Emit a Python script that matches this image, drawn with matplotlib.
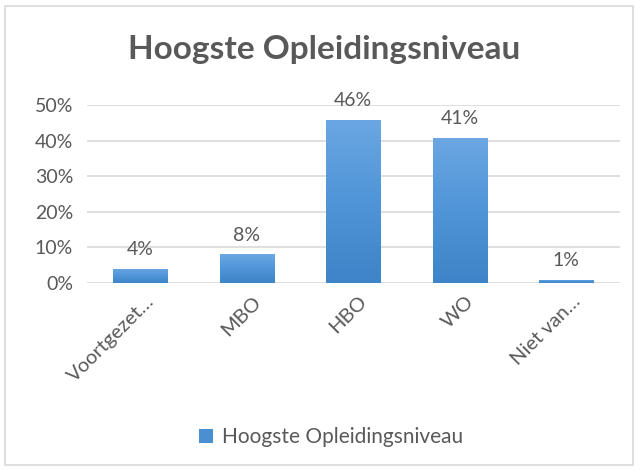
import numpy as np
import matplotlib.pyplot as plt
import matplotlib.transforms as mtransforms
from matplotlib.patches import Rectangle
from matplotlib.colors import LinearSegmentedColormap

categories = ['Voortgezet…', 'MBO', 'HBO', 'WO', 'Niet van…']
values = [0.04, 0.081, 0.458, 0.407, 0.009]
yticks = [0, 0.1, 0.2, 0.3, 0.4, 0.5]
ytick_labels = ['0%', '10%', '20%', '30%', '40%', '50%']
series_name = 'Hoogste Opleidingsniveau'

plt.rcParams['font.family'] = ['Lato', 'DejaVu Sans']
grey = '#595959'
fig = plt.figure(figsize=(6.41, 4.71), dpi=100)
ax = fig.add_axes([0.1357, 0.399, 0.831, 0.378])

# frame around the chart
fig.patches.append(Rectangle((0.008, 0.012), 0.98, 0.975, transform=fig.transFigure,
                             fill=False, edgecolor='#d9d9d9', lw=1.2))

x = np.arange(len(categories))
width = 0.51
bars = ax.bar(x, values, width, color='#4a8fd2', label=series_name, zorder=2)

# vertical gradient on each bar (lighter at the top)
cmap = LinearSegmentedColormap.from_list('blu', ['#3d85c8', '#4f95d8', '#6ba7e2'])
grad = np.linspace(0, 1, 256).reshape(-1, 1)
for b in bars:
    x0, y0 = b.get_x(), b.get_y()
    w, h = b.get_width(), b.get_height()
    im = ax.imshow(grad, extent=[x0, x0 + w, y0, y0 + h], origin='lower',
                   cmap=cmap, aspect='auto', zorder=3)
    im.set_clip_path(b)

for xi, v in zip(x, values):
    ax.text(xi, v + 0.03, f'{round(v * 100):.0f}%', ha='center', va='bottom',
            fontsize=14, color=grey)

ax.set_xlim(-0.5, len(categories) - 0.5)
ax.set_ylim(0, 0.5)
ax.set_yticks(yticks)
ax.set_yticklabels(ytick_labels, fontsize=14, color=grey)
ax.set_xticks(x)
ax.set_xticklabels(categories, rotation=45, ha='right', rotation_mode='anchor',
                   fontsize=14.5, color=grey)
ax.tick_params(axis='y', length=0, pad=10)
ax.tick_params(axis='x', length=0, pad=7)
shift = mtransforms.ScaledTranslation(5 / 100, 0, fig.dpi_scale_trans)
for lbl in ax.get_xticklabels():
    lbl.set_transform(lbl.get_transform() + shift)
ax.grid(axis='y', color='#d9d9d9', lw=1.2, zorder=0)
for s in ax.spines.values():
    s.set_visible(False)

fig.text(0.506, 0.894, series_name, ha='center', va='center', fontsize=24,
         fontweight='bold', color=grey)

handles, labels = ax.get_legend_handles_labels()
fig.legend(handles, labels, loc='center', bbox_to_anchor=(0.516, 0.072), frameon=False,
           fontsize=15, labelcolor=grey, handlelength=0.7, handleheight=0.7,
           handletextpad=0.4)

fig.savefig('out.png', dpi=100)
